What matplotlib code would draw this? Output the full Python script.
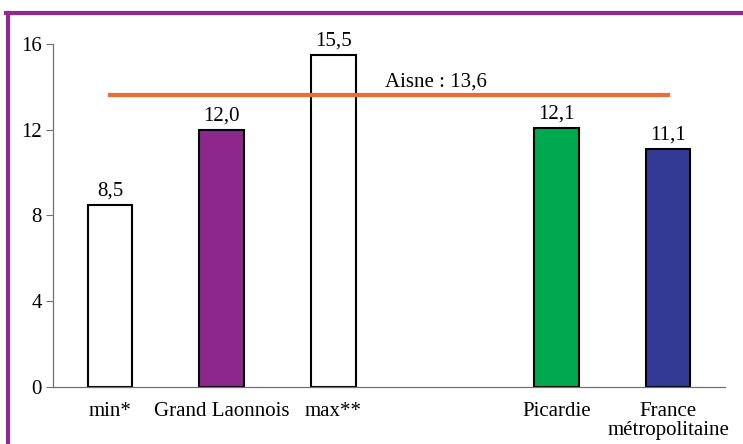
import matplotlib
matplotlib.use("Agg")
import matplotlib.pyplot as plt
from matplotlib.lines import Line2D

categories = ["min*", "Grand Laonnois", "max**", "Picardie", "France\nmétropolitaine"]
positions = [0, 1, 2, 4, 5]
values = [8.5, 12.0, 15.5, 12.1, 11.1]
value_labels = ["8,5", "12,0", "15,5", "12,1", "11,1"]
colors = ["white", "#8e278d", "white", "#00a84f", "#323a96"]
aisne_value = 13.6
aisne_label = "Aisne : 13,6"
yticks = [0, 4, 8, 12, 16]

plt.rcParams['font.family'] = ['Liberation Serif', 'DejaVu Serif']
FS = 15

fig = plt.figure(figsize=(7.43, 4.44), dpi=100)
ax = fig.add_axes([53/743, 1-387/444, (725-53)/743, (387-44)/444])

ax.bar(positions, values, width=0.4, color=colors, edgecolor="black", linewidth=1.5, zorder=2)
for p, v, lab in zip(positions, values, value_labels):
    ax.text(p, v + 0.2, lab, ha="center", va="bottom", fontsize=FS)

ax.plot([positions[0], positions[-1]], [aisne_value, aisne_value], color="#f26a2c", linewidth=3, zorder=3)
ax.text(2.92, aisne_value + 0.2, aisne_label, ha="center", va="bottom", fontsize=FS)

ax.set_xlim(-0.51, 5.51)
ax.set_ylim(0, 16)
ax.set_yticks(yticks)
ax.set_yticklabels([str(t) for t in yticks], fontsize=FS)
ax.set_xticks(positions)
ax.set_xticklabels(categories, fontsize=FS, linespacing=1.0)
ax.tick_params(axis="x", length=0, pad=11)
ax.tick_params(axis="y", length=5, width=0.8, color="#707070", pad=3)
for s in ["top", "right"]:
    ax.spines[s].set_visible(False)
for s in ["left", "bottom"]:
    ax.spines[s].set_color("#707070")
    ax.spines[s].set_linewidth(0.9)

border = "#902a8f"
fig.add_artist(Line2D([8/743, 8/743], [0, 1-13/444], color=border, linewidth=3, transform=fig.transFigure))
fig.add_artist(Line2D([6.5/743, 1], [1-13/444, 1-13/444], color=border, linewidth=3, transform=fig.transFigure))

fig.savefig("out.png", dpi=100)
